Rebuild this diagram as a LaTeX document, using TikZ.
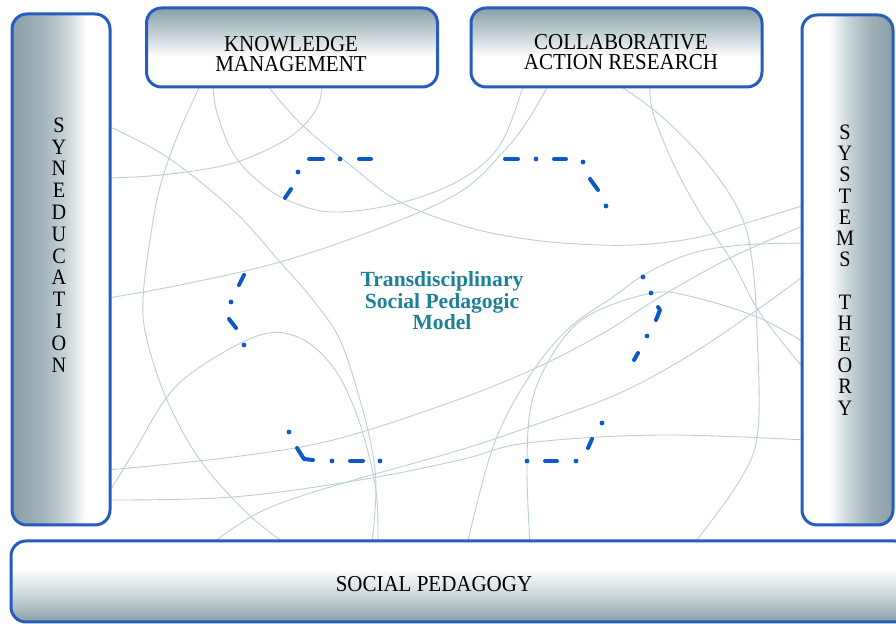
\documentclass[tikz,border=0pt]{standalone}
\usepackage{fontspec}
\setmainfont{Liberation Serif}
\newfontfamily\capsfont[FakeStretch=0.92]{Liberation Serif}

\definecolor{frameblue}{RGB}{38,92,190}
\definecolor{steel}{RGB}{138,158,166}
\definecolor{steellight}{RGB}{198,211,215}
\definecolor{threadcol}{RGB}{186,208,212}
\definecolor{hexblue}{RGB}{12,90,200}
\definecolor{modelteal}{RGB}{28,128,152}

% gradients of the frame panels (the path is mapped onto 25bp..75bp)
\pgfdeclarehorizontalshading{pillarleft}{100bp}{color(0bp)=(steel); color(25bp)=(steel); color(40bp)=(steel!80!white); color(52bp)=(steellight); color(63bp)=(white); color(100bp)=(white)}
\pgfdeclarehorizontalshading{pillarright}{100bp}{color(0bp)=(white); color(40bp)=(white); color(51bp)=(steellight); color(62bp)=(steel!80!white); color(75bp)=(steel); color(100bp)=(steel)}
\pgfdeclareverticalshading{boxtop}{100bp}{color(0bp)=(white); color(44bp)=(white); color(58bp)=(steellight); color(75bp)=(steel); color(100bp)=(steel)}
\pgfdeclareverticalshading{boxbottom}{100bp}{color(0bp)=(steel); color(25bp)=(steel); color(40bp)=(steellight); color(58bp)=(white); color(100bp)=(white)}

\tikzset{
  roundframe/.style={draw=frameblue, line width=1.5pt, rounded corners=7.5pt, inner sep=0pt},
  pillarL/.style={roundframe, shading=pillarleft, minimum width=49pt, minimum height=255.5pt},
  pillarR/.style={roundframe, shading=pillarright, minimum width=45.5pt, minimum height=255pt},
  topbox/.style={roundframe, shading=boxtop, minimum width=145.5pt, minimum height=39.5pt},
  basebox/.style={roundframe, shading=boxbottom, minimum width=449.5pt, minimum height=40.5pt},
  caps/.style={font=\capsfont\fontsize{11.4}{10}\selectfont, align=center, inner sep=0pt},
  thread/.style={draw=threadcol, line width=0.45pt},
  hexdash/.style={draw=hexblue, line width=2pt, line cap=round, line join=round},
  hexdot/.style={fill=hexblue},
}

\begin{document}
\begin{tikzpicture}[x=0.5pt,y=-0.5pt]
\useasboundingbox (0,0) rectangle (896,624);
\clip (0,0) rectangle (896,624);

% thin threads woven across the field
\draw[thread] plot[smooth, tension=0.6] coordinates {(200,86) (177,137) (160,187) (150,240) (143,300) (147,340) (167,400) (200,460) (247,513) (287,545)};
\draw[thread] plot[smooth, tension=0.6] coordinates {(213,86) (217,113) (233,153) (257,180) (287,200) (333,212) (400,203) (460,180) (500,145) (523,86)};
\draw[thread] plot[smooth, tension=0.6] coordinates {(268,86) (300,123) (350,165) (400,202) (467,227) (533,240) (600,245) (650,244) (700,237) (740,225) (805,205)};
\draw[thread] plot[smooth, tension=0.6] coordinates {(322,86) (316,110) (290,137) (243,160) (200,170) (150,176) (108,178)};
\draw[thread] plot[smooth, tension=0.6] coordinates {(108,126) (167,157) (233,210) (280,262) (313,300) (340,340) (360,400) (372,450) (376,490) (372,545)};
\draw[thread] plot[smooth, tension=0.6] coordinates {(108,494) (135,450) (167,397) (200,367) (260,335) (300,338) (333,367) (355,410) (370,460) (377,500) (378,545)};
\draw[thread] plot[smooth, tension=0.6] coordinates {(108,298) (180,285) (280,262) (380,228) (460,192) (505,150) (528,120) (548,86)};
\draw[thread] plot[smooth, tension=0.6] coordinates {(650,86) (653,113) (673,163) (700,213) (733,263) (760,313) (805,370)};
\draw[thread] plot[smooth, tension=0.6] coordinates {(620,86) (660,115) (707,163) (740,213) (752,260) (757,330) (758,430) (740,480) (693,545)};
\draw[thread] plot[smooth, tension=0.6] coordinates {(530,545) (527,463) (533,397) (560,343) (593,313) (653,293) (693,297) (757,317) (805,343)};
\draw[thread] plot[smooth, tension=0.6] coordinates {(467,545) (493,447) (527,380) (567,330) (613,297) (647,273) (693,253) (743,245) (805,243)};
\draw[thread] plot[smooth, tension=0.6] coordinates {(108,470) (233,457) (333,440) (443,405) (527,372) (600,335) (660,297) (730,258) (805,225)};
\draw[thread] plot[smooth, tension=0.6] coordinates {(108,500) (233,497) (360,480) (460,460) (527,443) (660,435) (805,440)};
\draw[thread] plot[smooth, tension=0.6] coordinates {(210,545) (260,512) (330,487) (460,450) (540,423) (620,393) (690,355) (757,310) (805,275)};

% frame panels
\node[pillarL] (syned) at (61,269.5) {};
\node[pillarR] (systems) at (847.5,270) {};
\node[topbox] (km) at (292,47.5) {};
\node[topbox] (car) at (616.5,47.5) {};
\node[basebox] (socped) at (460.5,581.5) {};

% panel captions
\node[caps] (kmtext) at (291,54) {KNOWLEDGE\\MANAGEMENT};
\node[caps] (cartext) at (621,52) {COLLABORATIVE\\ACTION RESEARCH};
\node[caps] (socpedtext) at (434,584) {SOCIAL PEDAGOGY};
\node[caps, font=\capsfont\fontsize{11}{10.9}\selectfont] (synedtext) at (59,245)
  {S\\Y\\N\\E\\D\\U\\C\\A\\T\\I\\O\\N};
\node[caps, font=\capsfont\fontsize{11}{10.6}\selectfont] (systext) at (845,270)
  {S\\Y\\S\\T\\E\\M\\S\\[10.6pt]T\\H\\E\\O\\R\\Y};

% central model
\node[font=\bfseries\fontsize{10.8}{10.75}\selectfont, text=modelteal, align=center, inner sep=0pt] (model) at (442,301)
  {Transdisciplinary\\Social Pedagogic\\Model};

% dash-dotted hexagon around the model
% upper left corner
\draw[hexdash] (309,159) -- (323,159);
\draw[hexdash] (359,159) -- (371,159);
\draw[hexdash] (291,189) -- (285,198);
\fill[hexdot] (340,159) circle[radius=1.2pt];
\fill[hexdot] (298,172) circle[radius=1.2pt];
% upper right corner
\draw[hexdash] (505,159) -- (518,159);
\draw[hexdash] (554,159) -- (566,159);
\draw[hexdash] (590,179) -- (598,190);
\fill[hexdot] (536,159) circle[radius=1.2pt];
\fill[hexdot] (583,162) circle[radius=1.2pt];
\fill[hexdot] (606,206) circle[radius=1.2pt];
% left corner
\draw[hexdash] (244,275) -- (239,285);
\draw[hexdash] (229,319) -- (236,328);
\fill[hexdot] (231,302) circle[radius=1.2pt];
\fill[hexdot] (244,345) circle[radius=1.2pt];
% right corner
\draw[hexdash] (658,307) -- (660,310) -- (656,320);
\draw[hexdash] (638,353) -- (634,360);
\fill[hexdot] (643,277) circle[radius=1.2pt];
\fill[hexdot] (651,293) circle[radius=1.2pt];
\fill[hexdot] (647,336) circle[radius=1.2pt];
% lower left corner
\draw[hexdash] (297,448) -- (304,459) -- (313,460);
\draw[hexdash] (350,461) -- (363,461);
\fill[hexdot] (289,432) circle[radius=1.2pt];
\fill[hexdot] (332,461) circle[radius=1.2pt];
\fill[hexdot] (380,461) circle[radius=1.2pt];
% lower right corner
\draw[hexdash] (545,461) -- (557,461);
\draw[hexdash] (588,448) -- (592,439);
\fill[hexdot] (527,461) circle[radius=1.2pt];
\fill[hexdot] (576,461) circle[radius=1.2pt];
\fill[hexdot] (602,423) circle[radius=1.2pt];
\end{tikzpicture}
\end{document}
